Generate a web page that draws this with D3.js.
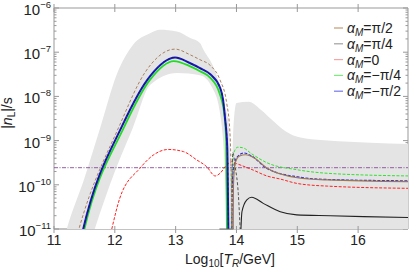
<!DOCTYPE html>
<html>
<head>
<meta charset="utf-8">
<script src="https://cdn.jsdelivr.net/npm/d3@7"></script>
<style>
  body { margin: 0; background: #fff; }
  svg { font-family: "Liberation Sans", Arial, sans-serif; }
</style>
</head>
<body>
<div id="chart"></div>
<script>
// all series are [log10 T_R, log10 |n_L|]
var band_top = [[11.15,-11.3],[11.21,-11],[11.5,-9.85],[11.76,-8.71],[12.03,-7.51],[12.3,-6.83],[12.58,-6.57],[12.74,-6.49],[13.02,-6.53],[13.24,-6.68],[13.4,-6.79],[13.46,-6.95],[13.62,-7.33],[13.73,-7.78],[13.81,-8.23],[13.87,-8.61],[13.9,-9.3],[13.92,-9.7],[13.95,-8.7],[14.0,-8.15],[14.2,-8.12],[14.4,-8.3],[14.6,-8.55],[14.8,-8.78],[15.05,-8.93],[15.5,-9.0],[16.2,-9.05],[16.85,-9.08]];
var band_bottom = [[11.6,-11.3],[11.67,-11],[12.0,-9.7],[12.3,-8.7],[12.58,-7.74],[13.02,-7.47],[13.4,-7.52],[13.6,-7.8],[13.72,-8.3],[13.78,-9.0],[13.82,-10.0],[13.85,-11.3]];

var brown = [[11.35,-11.3],[11.41,-11],[12.08,-8.65],[12.5,-7.45],[12.99,-6.93],[13.24,-7.06],[13.4,-7.17],[13.57,-7.3],[13.73,-7.63],[13.84,-8.16],[13.89,-8.76],[13.915,-10],[13.92,-11.3]];
var brown2 = [[13.945,-11.3],[13.95,-10],[13.98,-9.5],[14.05,-9.35],[14.15,-9.32],[14.3,-9.4],[14.5,-9.62],[15.0,-9.84],[15.5,-9.89],[16.85,-9.93]];
var blue = [[11.43,-11.3],[11.48,-11],[12.13,-8.64],[12.58,-7.54],[12.99,-7.12],[13.24,-7.25],[13.4,-7.36],[13.57,-7.5],[13.73,-7.8],[13.78,-8.08],[13.81,-8.46],[13.85,-9.2],[13.87,-11.3]];
var blue2 = [[13.925,-11.3],[13.93,-10],[13.97,-9.5],[14.05,-9.32],[14.12,-9.28],[14.25,-9.35],[14.5,-9.63],[15.0,-9.82],[15.5,-9.88],[16.85,-9.91]];
var green = [[11.45,-11.3],[11.5,-11],[12.15,-8.7],[12.58,-7.62],[12.97,-7.2],[13.24,-7.32],[13.4,-7.43],[13.57,-7.58],[13.72,-7.92],[13.8,-8.4],[13.83,-9.0],[13.845,-11.3]];
var green2 = [[13.915,-11.3],[13.92,-10],[13.95,-9.3],[14.02,-9.15],[14.1,-9.16],[14.25,-9.3],[14.5,-9.5],[15.0,-9.66],[15.5,-9.74],[16.85,-9.8]];
var grayDash = [[11.43,-11.3],[11.48,-11],[12.13,-8.64],[12.58,-7.54],[12.99,-7.12],[13.24,-7.25],[13.4,-7.36],[13.57,-7.5],[13.73,-7.8],[13.78,-8.08],[13.81,-8.46],[13.85,-9.2],[13.87,-11.3]];
var grayDash2 = [[13.925,-11.3],[13.93,-9.6],[13.94,-9.27],[13.98,-9.6],[14.03,-10.2],[14.07,-11.3]];
var red = [[11.9,-11.3],[11.95,-11],[12.08,-10.31],[12.41,-9.63],[12.63,-9.33],[12.88,-9.2],[13.13,-9.25],[13.35,-9.44],[13.51,-9.59],[13.65,-9.8],[13.73,-9.74],[13.84,-9.55],[13.92,-9.48],[14.0,-9.52],[14.28,-9.67],[14.5,-9.8],[14.72,-9.87],[15.0,-9.97],[15.5,-10.03],[16.85,-10.08]];
var black = [[14.065,-11.3],[14.09,-10.61],[14.17,-10.34],[14.25,-10.28],[14.44,-10.42],[14.72,-10.61],[14.99,-10.68],[15.54,-10.7],[16.09,-10.72],[16.85,-10.74]];
var observed = -9.613;

var xTicks = [11, 12, 13, 14, 15, 16];
var yExps = [-11, -10, -9, -8, -7, -6];
var legendLabels = ["\u03C0/2", "\u03C0/4", "0", "\u2212\u03C0/4", "\u2212\u03C0/2"];
var legendColors = ["#c49a74", "#a0a0a0", "#f7a4a4", "#7aee7a", "#7676ee"];

var W = 409, H = 269;
var pL = 54, pR = 408, pT = 8, pB = 229;

var svg = d3.select("#chart").append("svg")
	.attr("width", W)
	.attr("height", H);

var x = d3.scaleLinear().domain([11, 16.82]).range([pL, pR]);
var y = d3.scaleLog().domain([1e-11, 1e-6]).range([pB, pT]);

svg.append("clipPath").attr("id", "clip")
	.append("rect")
	.attr("x", pL).attr("y", pT)
	.attr("width", pR - pL).attr("height", pB - pT);

// frame first, the band lies over it
var frame = svg.append("g").attr("stroke", "#999").attr("fill", "none").attr("stroke-width", 1);
frame.append("line").attr("x1", pL).attr("x2", pL).attr("y1", pT).attr("y2", pB);
frame.append("line").attr("x1", pL).attr("x2", pR).attr("y1", pT).attr("y2", pT);
frame.append("line").attr("x1", pR).attr("x2", pR).attr("y1", pT).attr("y2", pB);
frame.append("line").attr("x1", pL).attr("x2", pR).attr("y1", pB).attr("y2", pB).attr("stroke", "#888");

yExps.forEach(function (e, i) {
	var yy = y(Math.pow(10, e));
	frame.append("line").attr("x1", pL).attr("x2", pL + 5).attr("y1", yy).attr("y2", yy);
	frame.append("line").attr("x1", pR).attr("x2", pR - 5).attr("y1", yy).attr("y2", yy);
	if (i < yExps.length - 1) {
		for (var k = 2; k < 10; k++) {
			var ym = y(k * Math.pow(10, e));
			frame.append("line").attr("x1", pL).attr("x2", pL + 2.5).attr("y1", ym).attr("y2", ym);
			frame.append("line").attr("x1", pR).attr("x2", pR - 2.5).attr("y1", ym).attr("y2", ym);
		}
	}
	var t = svg.append("text")
		.attr("x", 51).attr("y", yy + 7)
		.attr("text-anchor", "end")
		.attr("font-size", 15)
		.attr("fill", "#222");
	t.append("tspan").text("10");
	t.append("tspan").attr("font-size", 9.5).attr("dy", -7).text("\u2212" + (-e));
});

xTicks.forEach(function (v) {
	var xx = x(v);
	frame.append("line").attr("x1", xx).attr("x2", xx).attr("y1", pT - 4).attr("y2", pT + 4);
	svg.append("text")
		.attr("x", xx).attr("y", 245)
		.attr("text-anchor", "middle")
		.attr("font-size", 14)
		.attr("fill", "#222")
		.text(v);
});

var plot = svg.append("g").attr("clip-path", "url(#clip)");

var line = d3.line()
	.x(function (d) { return x(d[0]); })
	.y(function (d) { return y(Math.pow(10, d[1])); })
	.curve(d3.curveMonotoneX);

var area = d3.area()
	.x(function (d) { return x(d[0]); })
	.y0(pB + 5)
	.y1(function (d) { return y(Math.pow(10, d[1])); })
	.curve(d3.curveMonotoneX);

// gray band: fill under top edge, then white under the bottom edge
plot.append("path").attr("d", area(band_top)).attr("fill", "#e4e4e4");
plot.append("path").attr("d", area(band_bottom)).attr("fill", "#fff");

// observed value
plot.append("line")
	.attr("x1", pL).attr("x2", pR)
	.attr("y1", y(Math.pow(10, observed))).attr("y2", y(Math.pow(10, observed)))
	.attr("stroke", "#8a4c9c").attr("stroke-width", 0.9)
	.attr("stroke-dasharray", "4,1.5,1,1.5");

function draw(data, color, width, dash) {
	var p = plot.append("path")
		.attr("d", line(data))
		.attr("fill", "none")
		.attr("stroke", color)
		.attr("stroke-width", width);
	if (dash) p.attr("stroke-dasharray", dash);
}

draw(red, "#f22", 1, "3,1.5");
draw(green, "#22dd22", 1.8);
draw(green2, "#33e033", 1, "3,1.5");
draw(blue, "#1a1ad0", 2);
draw(blue2, "#2a2ae0", 1.2, "3,1.5");
draw(grayDash, "#1a1a50", 1, "3,2");
draw(grayDash2, "#555", 1, "3,2");
draw(brown, "#a98060", 1, "3,2");
draw(brown2, "#a07850", 1.2);
draw(black, "#222", 1.1);

// bottom ticks and the short piece of curve lying on the bottom edge
var over = svg.append("g").attr("stroke", "#999").attr("stroke-width", 1);
over.append("line").attr("x1", x(13.72)).attr("x2", x(13.95)).attr("y1", pB).attr("y2", pB).attr("stroke", "#666");
xTicks.forEach(function (v) {
	over.append("line").attr("x1", x(v)).attr("x2", x(v)).attr("y1", pB - 3).attr("y2", pB + 4);
});

// axis titles
var xt = svg.append("text")
	.attr("x", 230).attr("y", 264)
	.attr("text-anchor", "middle")
	.attr("font-size", 14)
	.attr("fill", "#222");
xt.append("tspan").text("Log");
xt.append("tspan").attr("font-size", 10).attr("dy", 3).text("10");
xt.append("tspan").attr("dy", -3).text("[");
xt.append("tspan").attr("font-style", "italic").text("T");
xt.append("tspan").attr("font-style", "italic").attr("font-size", 10).attr("dy", 3).text("R");
xt.append("tspan").attr("dy", -3).text("/GeV]");

var yt = svg.append("text")
	.attr("transform", "translate(12,113) rotate(-90)")
	.attr("text-anchor", "middle")
	.attr("font-size", 14)
	.attr("fill", "#222");
yt.append("tspan").text("|");
yt.append("tspan").attr("font-style", "italic").text("n");
yt.append("tspan").attr("font-size", 10).attr("dy", 3).text("L");
yt.append("tspan").attr("dy", -3).text("|/s");

// legend
var legend = svg.selectAll("g.legend")
	.data(legendLabels)
	.enter().append("g")
	.attr("class", "legend")
	.attr("transform", function (d, i) { return "translate(334," + (28 + i * 15.8) + ")"; });

legend.append("line")
	.attr("x1", 0).attr("x2", 9)
	.attr("stroke", function (d, i) { return legendColors[i]; })
	.attr("stroke-width", 1.2);

var lt = legend.append("text")
	.attr("x", 13).attr("y", 5)
	.attr("font-size", 14)
	.attr("fill", "#222");
lt.append("tspan").attr("font-style", "italic").text("\u03B1");
lt.append("tspan").attr("font-style", "italic").attr("font-size", 10).attr("dy", 3).text("M");
lt.append("tspan").attr("dy", -3).text(function (d) { return "=" + d; });
</script>
</body>
</html>
